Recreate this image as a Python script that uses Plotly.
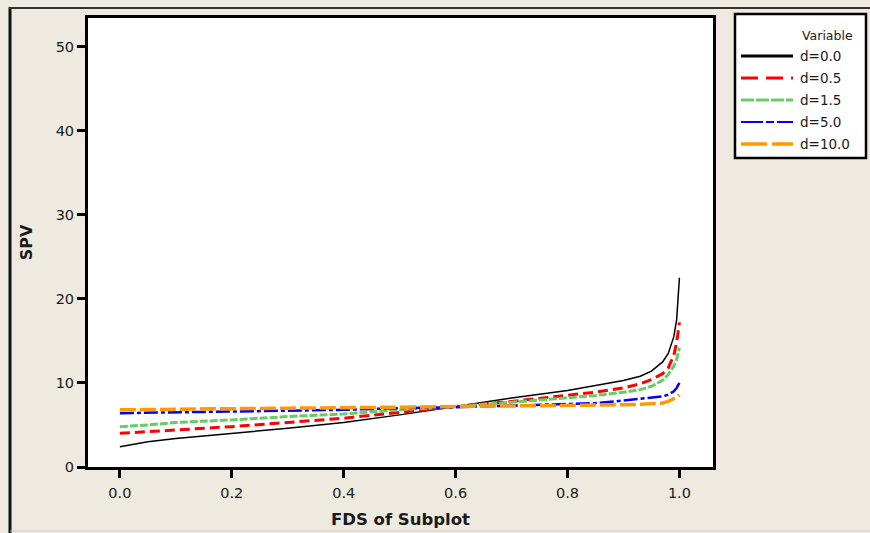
import plotly.graph_objects as go

# ---- data ----
fds = [0, 0.05, 0.1, 0.2, 0.3, 0.4, 0.5, 0.6, 0.7, 0.8, 0.85, 0.9, 0.93, 0.95, 0.97, 0.98, 0.99, 0.995, 1.0]
spv_d00 = [2.4, 3.0, 3.4, 4.0, 4.6, 5.3, 6.2, 7.2, 8.2, 9.1, 9.7, 10.3, 10.8, 11.4, 12.5, 13.5, 15.5, 17.5, 22.5]
spv_d05 = [4.0, 4.2, 4.4, 4.8, 5.3, 5.8, 6.5, 7.2, 7.8, 8.5, 8.9, 9.4, 9.9, 10.4, 11.1, 11.8, 13.3, 14.8, 17.2]
spv_d15 = [4.8, 5.0, 5.3, 5.6, 6.0, 6.3, 6.8, 7.2, 7.7, 8.2, 8.5, 8.9, 9.2, 9.6, 10.3, 11.0, 12.0, 12.8, 14.2]
spv_d50 = [6.4, 6.45, 6.5, 6.6, 6.7, 6.8, 7.0, 7.1, 7.3, 7.5, 7.6, 7.9, 8.1, 8.2, 8.4, 8.6, 9.0, 9.4, 10.0]
spv_d100 = [6.8, 6.85, 6.9, 6.95, 7.0, 7.05, 7.1, 7.2, 7.25, 7.3, 7.35, 7.4, 7.45, 7.5, 7.6, 7.8, 8.1, 8.3, 8.6]

series_names = ["d=0.0", "d=0.5", "d=1.5", "d=5.0", "d=10.0"]
series_values = [spv_d00, spv_d05, spv_d15, spv_d50, spv_d100]
x_ticks = [0.0, 0.2, 0.4, 0.6, 0.8, 1.0]
x_tick_labels = ["0.0", "0.2", "0.4", "0.6", "0.8", "1.0"]
y_ticks = [0, 10, 20, 30, 40, 50]

# ---- styles ----
colors = ["#000000", "#ff0000", "#66cc66", "#0000ff", "#ff9900"]
widths = [1.5, 3, 3, 2.5, 3.5]
dashes = ["solid", "10px,5px", "8px,2px", "14px,3px,4px,3px", "16px,4px"]
leg_widths = [3, 3, 3, 2, 3.5]
leg_dashes = ["solid", "17px,8px", "13px,2px", "22px,3px,8px,3px", "26px,5px"]

BG = "#eeeae0"
FONT = "DejaVu Sans"
TXT = "#1a1a1a"

# plot-area pixel geometry
L, R, T, B = 88, 713, 18, 467
W, H = 870, 533
def px(x):
    return (x - L) / (R - L)
def py(y):
    return (B - y) / (B - T)

fig = go.Figure()
for name, vals, c, w, d in zip(series_names, series_values, colors, widths, dashes):
    fig.add_trace(go.Scatter(x=fds, y=vals, mode="lines", name=name,
                             line=dict(color=c, width=w, dash=d),
                             showlegend=False))

shapes = []
annotations = []
# outer frame
shapes.append(dict(type="line", xref="paper", yref="paper", x0=px(10), x1=px(10), y0=py(7), y1=py(533),
                   line=dict(color="#111111", width=3), layer="below"))
shapes.append(dict(type="line", xref="paper", yref="paper", x0=px(9), x1=px(870), y0=py(8), y1=py(8),
                   line=dict(color="#333333", width=2), layer="below"))
shapes.append(dict(type="line", xref="paper", yref="paper", x0=px(10), x1=px(870), y0=py(531), y1=py(531),
                   line=dict(color="#c8c8c8", width=1), layer="below"))
# legend box
shapes.append(dict(type="rect", xref="paper", yref="paper", x0=px(735), x1=px(866), y0=py(14), y1=py(158),
                   fillcolor="white", line=dict(color="black", width=2.5)))
annotations.append(dict(xref="paper", yref="paper", x=px(855), y=py(35), text="Variable", showarrow=False,
                        xanchor="right", yanchor="middle", font=dict(family=FONT, size=12.5, color=TXT)))
for i, (name, c, w, d) in enumerate(zip(series_names, colors, leg_widths, leg_dashes)):
    yy = 56 + 22 * i
    shapes.append(dict(type="line", xref="paper", yref="paper", x0=px(741), x1=px(793), y0=py(yy), y1=py(yy),
                       line=dict(color=c, width=w, dash=d)))
    annotations.append(dict(xref="paper", yref="paper", x=px(798), y=py(yy), text=name, showarrow=False,
                            xanchor="left", yanchor="middle", font=dict(family=FONT, size=13.5, color=TXT)))

fig.update_layout(
    width=W, height=H,
    margin=dict(l=L, r=W - R, t=T, b=H - B),
    paper_bgcolor=BG, plot_bgcolor="white",
    font=dict(family=FONT, size=14, color=TXT),
    shapes=shapes, annotations=annotations,
    xaxis=dict(range=[-0.057, 1.06], tickvals=x_ticks, ticktext=x_tick_labels, automargin=False,
               showgrid=False, zeroline=False, showline=True, mirror=True,
               linecolor="black", linewidth=3, ticks="outside", ticklen=8, tickwidth=2.5,
               tickcolor="black", tickfont=dict(family=FONT, size=14.5, color=TXT), ticklabelstandoff=3,
               title=dict(text="<b>FDS of Subplot</b>", font=dict(family=FONT, size=16.5, color=TXT), standoff=14)),
    yaxis=dict(range=[0, 53.4], tickvals=y_ticks, automargin=False,
               showgrid=False, zeroline=False, showline=True, mirror=True,
               linecolor="black", linewidth=3, ticks="outside", ticklen=8, tickwidth=2.5,
               tickcolor="black", tickfont=dict(family=FONT, size=14.5, color=TXT),
               title=dict(text="<b>SPV</b>", font=dict(family=FONT, size=16, color=TXT), standoff=20)),
)

fig.write_html("out.html")
